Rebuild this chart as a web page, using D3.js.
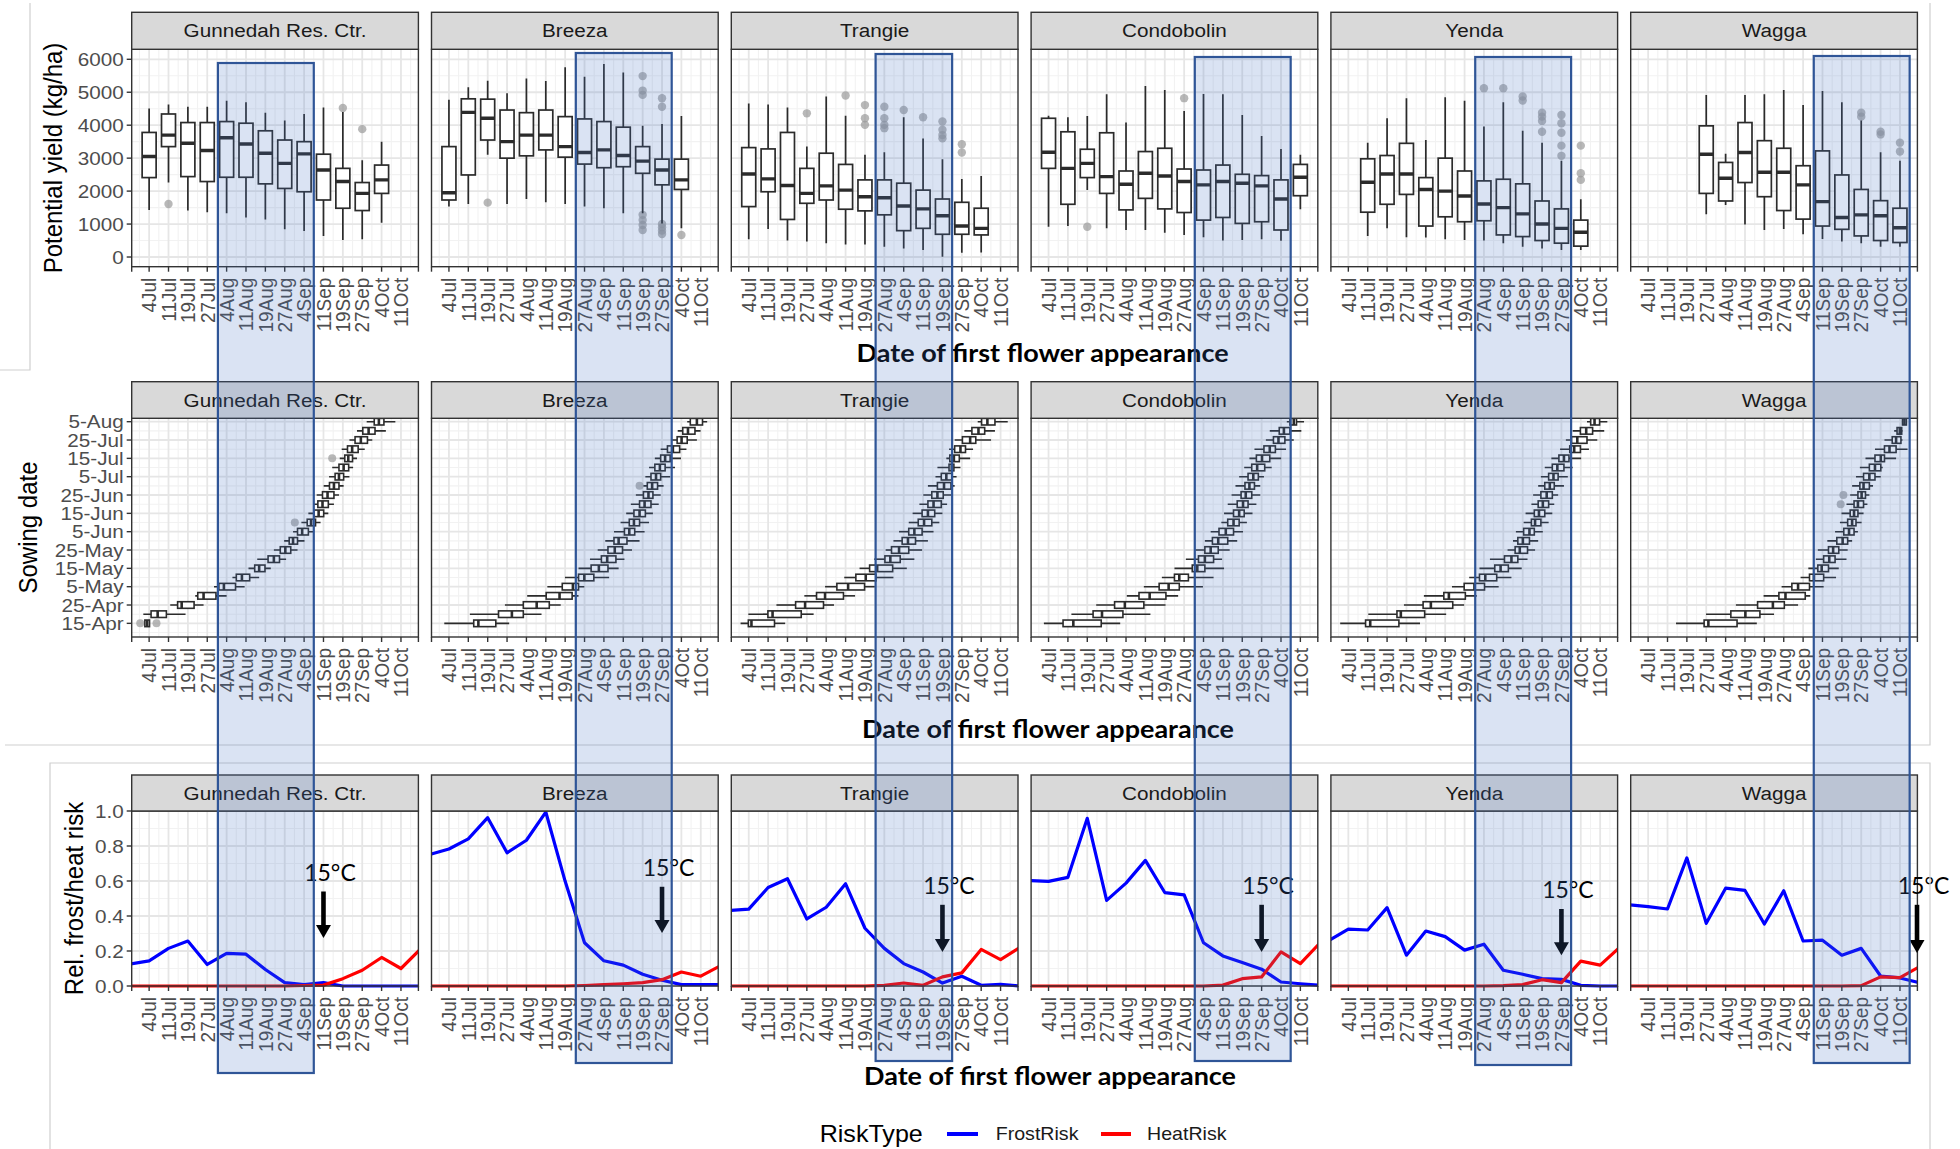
<!DOCTYPE html>
<html>
<head>
<meta charset="utf-8">
<script src="https://cdn.jsdelivr.net/npm/d3@7"></script>
<style>
  html, body { margin: 0; padding: 0; background: #fff; }
  svg { display: block; }
</style>
</head>
<body>
<svg id="fig" width="1960" height="1149"></svg>
<script>
// ---------------- data ----------------
const sites = ["Gunnedah Res. Ctr.", "Breeza", "Trangie", "Condobolin", "Yenda", "Wagga"];
// flowering weeks on the x axis (index 0 = week of 4 Jul)
const weekLabels = ["4Jul","11Jul","19Jul","27Jul","4Aug","11Aug","19Aug","27Aug","4Sep","11Sep","19Sep","27Sep","4Oct","11Oct"];
const sowingDates = ["15-Apr","20-Apr","25-Apr","30-Apr","5-May","10-May","15-May","20-May","25-May","30-May",
  "5-Jun","10-Jun","15-Jun","20-Jun","25-Jun","30-Jun","5-Jul","10-Jul","15-Jul","20-Jul","25-Jul","30-Jul","5-Aug"];
const yieldTicks = [0, 1000, 2000, 3000, 4000, 5000, 6000];
const riskTicks = [0, 0.2, 0.4, 0.6, 0.8, 1.0];

// potential yield (kg/ha) boxplots: [flowering week, lower whisker, Q1, median, Q3, upper whisker]
const yieldGunnedah = [[0,1430,2410,3050,3780,4510],[1,2260,3350,3700,4340,4630],[2,1410,2440,3450,4080,4560],
  [3,1360,2290,3230,4080,4560],[4,1330,2420,3620,4110,4740],[5,1200,2420,3430,4060,4700],[6,1140,2220,3150,3830,4380],
  [7,840,2080,2840,3550,4140],[8,790,1980,3130,3500,4340],[9,640,1730,2640,3120,4540],[10,520,1480,2290,2690,4400],
  [11,540,1410,1930,2260,2940],[12,1040,1930,2340,2790,3500]];
const yieldBreeza = [[0,1530,1730,1950,3350,4770],[1,1610,2490,4390,4800,5150],[2,3100,3550,4210,4790,5350],
  [3,1610,3000,3500,4460,4970],[4,1760,3070,3700,4380,5420],[5,1660,3250,3700,4460,5340],[6,1610,3030,3350,4260,5760],
  [7,1530,2820,3170,4190,5470],[8,1480,2710,3250,4110,5860],[9,1330,2740,3080,3940,5600],[10,1330,2540,2910,3350,3980],
  [11,1020,2190,2640,2970,4040],[12,870,2050,2340,2970,4280]];
const yieldTrangie = [[0,540,1530,2520,3320,4660],[1,850,1980,2370,3280,4630],[2,500,1140,2170,3780,4540],
  [3,470,1630,1930,2690,3350],[4,420,1730,2160,3150,4870],[5,380,1450,2030,2810,4290],[6,380,1400,1830,2340,3100],
  [7,310,1280,1800,2340,3180],[8,260,800,1550,2240,4240],[9,210,870,1460,2030,3600],[10,10,690,1250,1760,2970],
  [11,130,690,940,1660,2370],[12,140,670,870,1480,2460]];
const yieldCondobolin = [[0,920,2690,3180,4210,4290],[1,940,1600,2690,3800,4240],[2,2030,2410,2840,3270,4280],
  [3,870,1930,2440,3770,4940],[4,820,1430,2210,2610,4080],[5,820,1780,2540,3200,5190],[6,740,1460,2460,3300,5070],
  [7,670,1350,2290,2670,4430],[8,600,1120,2190,2640,4950],[9,500,1200,2290,2790,4940],[10,520,1020,2240,2510,4310],
  [11,540,1070,2160,2470,3670],[12,490,820,1760,2340,3280],[13,1450,1860,2420,2810,3100]];
const yieldYenda = [[1,640,1360,2270,2980,3470],[2,870,1600,2520,3080,4210],[3,600,1900,2520,3450,4820],
  [4,590,940,2050,2410,3550],[5,540,1220,2000,3000,4850],[6,520,1070,1850,2610,4740],[7,500,1100,1610,2310,3960],
  [8,420,670,1500,2360,4700],[9,310,620,1310,2220,3830],[10,260,500,1000,1700,3470],[11,210,420,870,1460,2920],
  [12,210,330,750,1120,1750]];
const yieldWagga = [[3,1300,1930,3120,3980,4920],[4,1580,1700,2390,2870,3130],[5,990,2260,3170,4080,4920],
  [6,820,1830,2570,3530,4940],[7,850,1410,2570,3300,5070],[8,690,1150,2190,2770,4610],[9,550,940,1680,3220,5040],
  [10,470,840,1200,2490,4700],[11,420,640,1280,2050,4140],[12,310,500,1250,1710,3180],[13,310,440,890,1480,2920]];

// yield outliers: [flowering week, kg/ha]
const yieldOutGunnedah = [[1,1610],[10,4520],[11,3880]];
const yieldOutBreeza = [[2,1650],[10,5490],[10,5050],[10,4920],[10,1280],[10,1120],[10,970],[10,820],
  [11,4820],[11,4560],[11,1000],[11,900],[11,800],[11,700],[12,670]];
const yieldOutTrangie = [[3,4360],[5,4900],[6,4610],[6,4210],[6,4010],[7,4560],[7,4210],[7,4010],[7,3910],
  [8,4460],[9,4240],[10,4110],[10,3860],[10,3700],[10,3600],[11,3420],[11,3170]];
const yieldOutCondobolin = [[2,920],[7,4820]];
const yieldOutYenda = [[7,5120],[8,5120],[9,4870],[9,4750],[10,4380],[10,4260],[10,4130],[10,3800],
  [11,4310],[11,4060],[11,3770],[11,3380],[11,3070],[12,3380],[12,2540],[12,2340]];
const yieldOutWagga = [[11,4380],[11,4260],[12,3800],[12,3720],[13,3470],[13,3200]];

// flowering week for each sowing date (row = sowingDates index): [lower whisker, Q1, median, Q3, upper whisker]
const flowerGunnedah = [[-0.22,-0.22,-0.10,0.02,0.02],[-0.30,0.10,0.44,0.89,1.88],[1.09,1.47,1.68,2.32,2.81],
  [2.38,2.51,2.81,3.45,4.00],[3.35,3.60,3.86,4.46,4.93],[4.30,4.50,4.79,5.19,5.68],[5.13,5.45,5.68,5.98,6.28],
  [5.58,6.14,6.44,6.73,7.07],[6.44,6.77,7.03,7.31,7.66],[6.97,7.23,7.43,7.66,8.02],[7.43,7.66,7.90,8.22,8.46],
  [7.86,8.16,8.36,8.59,8.85],[8.22,8.51,8.75,9.01,9.25],[8.46,8.71,8.95,9.25,9.54],[8.65,8.95,9.21,9.54,9.80],
  [9.01,9.31,9.54,9.80,10.04],[9.29,9.60,9.80,10.04,10.34],[9.45,9.80,10.04,10.30,10.53],[9.84,10.10,10.28,10.50,10.73],
  [9.94,10.24,10.48,10.79,11.13],[10.34,10.63,10.93,11.27,11.52],[10.73,11.03,11.33,11.66,12.22],[11.23,11.62,11.86,12.12,12.71]];
const flowerBreeza = [[-0.24,1.28,1.52,2.42,3.11],[1.08,2.56,3.25,3.84,4.78],[2.89,3.84,4.53,5.18,5.77],
  [4.04,5.02,5.71,6.36,6.69],[5.08,5.85,6.40,6.69,6.99],[5.99,6.69,6.99,7.48,8.27],[6.69,7.34,7.74,8.21,8.76],
  [7.28,7.87,8.17,8.62,9.06],[7.68,8.21,8.56,8.96,9.45],[8.07,8.52,8.76,9.19,9.84],[8.52,9.06,9.31,9.59,10.10],
  [8.86,9.31,9.55,9.84,10.33],[9.15,9.55,9.84,10.14,10.53],[9.39,9.84,10.10,10.43,10.83],[9.65,10.04,10.30,10.53,10.93],
  [10.04,10.24,10.49,10.77,11.08],[10.14,10.43,10.69,10.93,11.42],[10.33,10.63,10.89,11.16,11.67],[10.63,10.93,11.16,11.42,11.98],
  [10.93,11.28,11.56,11.91,12.26],[11.48,11.78,12.01,12.30,12.80],[11.81,12.07,12.34,12.70,12.99],[12.30,12.46,12.80,13.09,13.33]];
const flowerTrangie = [[-0.42,-0.02,0.14,1.33,1.88],[-0.02,0.99,1.23,2.71,3.35],[1.43,2.42,2.91,3.86,4.40],
  [2.87,3.50,3.94,4.89,5.49],[3.94,4.55,5.13,5.98,6.51],[4.93,5.53,6.04,6.57,7.47],[5.72,6.24,6.63,7.43,8.16],
  [6.48,7.03,7.31,7.82,8.55],[7.07,7.37,7.76,8.26,8.95],[7.47,7.92,8.22,8.61,9.25],[7.76,8.26,8.55,8.95,9.54],
  [8.26,8.75,9.05,9.45,9.84],[8.46,8.95,9.25,9.60,10.00],[8.81,9.25,9.54,9.94,10.24],[9.01,9.45,9.74,10.04,10.44],
  [9.25,9.74,10.08,10.44,10.63],[9.64,9.94,10.20,10.48,10.73],[9.74,10.34,10.48,10.59,10.93],[10.20,10.38,10.59,10.87,11.43],
  [10.34,10.63,10.93,11.19,11.58],[10.63,11.03,11.43,11.72,12.51],[11.13,11.52,11.86,12.18,12.71],[11.82,12.02,12.32,12.71,13.37]];
const flowerCondobolin = [[-0.24,0.75,1.28,2.72,3.70],[1.18,2.30,2.76,3.84,5.26],[2.46,3.41,3.94,4.92,6.04],
  [4.04,4.67,5.22,6.06,6.69],[4.92,5.71,6.20,6.75,7.97],[5.85,6.50,6.75,7.22,8.52],[6.50,7.42,7.68,8.07,9.06],
  [7.09,7.74,8.07,8.52,8.96],[7.58,8.07,8.37,8.76,9.35],[8.07,8.46,8.76,9.25,9.74],[8.37,8.80,9.15,9.55,10.04],
  [8.92,9.25,9.55,9.84,10.24],[9.06,9.55,9.84,10.10,10.53],[9.25,9.74,10.04,10.30,10.73],[9.45,9.94,10.18,10.49,10.93],
  [9.65,10.14,10.37,10.63,10.93],[9.84,10.30,10.57,10.83,11.12],[10.10,10.49,10.77,11.16,11.52],[10.37,10.73,11.02,11.42,12.01],
  [10.63,11.12,11.42,11.71,12.26],[11.22,11.61,11.87,12.20,12.66],[11.42,11.91,12.15,12.46,13.05],[12.30,12.46,12.66,12.80,13.19]];
const flowerYenda = [[-0.42,0.89,1.13,2.61,3.70],[1.03,2.51,2.71,3.94,5.05],[2.87,3.86,4.26,5.39,5.98],
  [3.90,4.93,5.19,6.04,6.63],[5.35,5.98,6.51,7.03,7.76],[6.24,6.77,7.07,7.66,8.42],[6.77,7.56,7.86,8.26,8.95],
  [7.31,8.06,8.42,8.75,9.25],[8.22,8.61,8.85,9.25,9.64],[8.50,8.75,9.01,9.35,9.80],[8.65,9.05,9.35,9.60,10.04],
  [9.05,9.45,9.64,9.94,10.34],[9.15,9.60,9.84,10.14,10.53],[9.45,9.80,10.04,10.34,10.63],[9.54,9.94,10.24,10.53,10.83],
  [9.80,10.14,10.40,10.63,11.13],[9.94,10.34,10.59,10.83,11.33],[10.14,10.53,10.79,11.13,11.58],[10.48,10.87,11.13,11.39,12.02],
  [10.93,11.43,11.66,11.98,12.42],[11.23,11.52,11.82,12.32,12.85],[11.58,11.98,12.28,12.61,13.21],[12.32,12.51,12.71,12.97,13.37]];
const flowerWagga = [[1.44,2.89,3.11,4.59,5.61],[2.99,4.27,5.02,5.77,6.50],[4.53,5.65,6.44,7.03,7.74],
  [5.96,6.75,7.09,8.11,8.37],[6.89,7.42,7.74,8.33,9.06],[7.87,8.33,8.56,9.06,9.70],[8.27,8.76,8.96,9.31,9.84],
  [8.66,9.06,9.35,9.65,10.24],[8.76,9.31,9.55,9.84,10.30],[9.25,9.74,10.04,10.30,10.53],[9.65,10.10,10.37,10.63,10.83],
  [9.90,10.30,10.53,10.73,11.02],[9.98,10.43,10.63,10.83,11.12],[10.24,10.63,10.83,11.12,11.32],[10.43,10.83,11.02,11.22,11.42],
  [10.53,10.93,11.12,11.42,11.61],[10.73,11.12,11.42,11.71,12.01],[10.93,11.42,11.71,12.01,12.11],[11.22,11.71,12.01,12.20,12.80],
  [11.71,12.20,12.46,12.80,13.39],[12.20,12.60,12.80,13.05,13.13],[12.70,12.85,12.99,13.09,13.13],[13.13,13.13,13.23,13.33,13.33]];

// flowering outliers: [sowing date index, flowering week]
const flowerOutGunnedah = [[0,-0.46],[0,0.38],[11,7.52],[18,9.45]];
const flowerOutBreeza = [[15,9.84]];
const flowerOutTrangie = [];
const flowerOutCondobolin = [];
const flowerOutYenda = [];
const flowerOutWagga = [[13,9.94],[14,10.08]];

// relative frost / heat risk by flowering week
const riskWeeks = [-1,0,1,2,3,4,5,6,7,8,9,10,11,12,13,14];
const frostGunnedah   = [0.125,0.144,0.215,0.257,0.123,0.186,0.182,0.094,0.019,0.008,0.019,0,0,0,0,0];
const frostBreeza     = [0.751,0.783,0.841,0.962,0.761,0.833,0.994,0.598,0.247,0.144,0.119,0.067,0.033,0.008,0.008,0.008];
const frostTrangie    = [0.431,0.439,0.563,0.613,0.383,0.450,0.584,0.330,0.215,0.128,0.080,0.017,0.056,0.004,0.010,0];
const frostCondobolin = [0.602,0.598,0.621,0.958,0.489,0.588,0.718,0.534,0.521,0.247,0.172,0.134,0.096,0.023,0.013,0.004];
const frostYenda      = [0.260,0.325,0.320,0.448,0.176,0.314,0.282,0.205,0.239,0.090,0.067,0.042,0.038,0.004,0,0];
const frostWagga      = [0.464,0.454,0.440,0.732,0.358,0.559,0.546,0.354,0.544,0.257,0.262,0.176,0.215,0.057,0.046,0.019];
const heatGunnedah    = [0,0,0,0,0,0,0,0,0,0.003,0.005,0.042,0.090,0.163,0.100,0.211];
const heatBreeza      = [0,0,0,0,0,0,0,0,0.003,0.008,0.013,0.019,0.036,0.080,0.056,0.115];
const heatTrangie     = [0,0,0,0,0,0,0,0,0.004,0.017,0.004,0.052,0.075,0.209,0.151,0.220];
const heatCondobolin  = [0,0,0,0,0,0,0,0,0,0,0.005,0.042,0.052,0.195,0.128,0.245];
const heatYenda       = [0,0,0,0,0,0,0,0,0,0.002,0.008,0.036,0.019,0.142,0.119,0.220];
const heatWagga       = [0,0,0,0,0,0,0,0,0,0,0,0,0.002,0.052,0.048,0.110];

// week at which mean temperature reaches 15°C (arrow), with arrow span in risk units
const arrowWeek   = [9, 11, 10, 11, 11, 13.88];
const arrowTop    = [0.54, 0.567, 0.464, 0.464, 0.44, 0.464];
const arrowBottom = [0.275, 0.303, 0.195, 0.195, 0.176, 0.188];

// optimal flowering window per site: [first week, last week]
const windowWeeks = [[4,8],[7,11],[7,10],[8,12],[7,11],[9,13]];

// ---------------- tables built from the arrays ----------------
const yieldBySite  = [yieldGunnedah, yieldBreeza, yieldTrangie, yieldCondobolin, yieldYenda, yieldWagga];
const yieldOutBySite = [yieldOutGunnedah, yieldOutBreeza, yieldOutTrangie, yieldOutCondobolin, yieldOutYenda, yieldOutWagga];
const flowerBySite = [flowerGunnedah, flowerBreeza, flowerTrangie, flowerCondobolin, flowerYenda, flowerWagga];
const flowerOutBySite = [flowerOutGunnedah, flowerOutBreeza, flowerOutTrangie, flowerOutCondobolin, flowerOutYenda, flowerOutWagga];
const frostBySite = [frostGunnedah, frostBreeza, frostTrangie, frostCondobolin, frostYenda, frostWagga];
const heatBySite  = [heatGunnedah, heatBreeza, heatTrangie, heatCondobolin, heatYenda, heatWagga];

// ---------------- layout & style ----------------
const SX = 1.09;                         // horizontal text stretch of the figure
const FONT = "'Liberation Sans', Arial, Helvetica, sans-serif";
const CAL = "Lato, 'Open Sans', sans-serif";
const INK = "#2b2b2b";
const PW = 286.7;
const panelX = i => 131.7 + 299.8 * i;
const rows = {
  yield: { stripTop: 12.3,  top: 49.3,  bottom: 266.7 },
  sow:   { stripTop: 381.7, top: 418.3, bottom: 637 },
  risk:  { stripTop: 775,   top: 811,   bottom: 986 }
};
const hlTop    = [63, 53, 54, 57, 57, 56];
const hlBottom = [1073, 1063, 1061, 1061, 1065, 1063];

const svg = d3.select("#fig");
svg.append("rect").attr("width", 1960).attr("height", 1149).attr("fill", "#fff");

function stretchedText(g, x, y, txt, opts = {}) {
  const rot = opts.rotate || 0;
  return g.append("text")
    .attr("transform", `translate(${x},${y}) scale(${SX},1)` + (rot ? ` rotate(${rot})` : ""))
    .attr("text-anchor", opts.anchor || "middle")
    .attr("dy", opts.dy || "0.35em")
    .attr("font-family", FONT)
    .attr("font-size", opts.size || 19)
    .attr("fill", opts.fill || "#4d4d4d")
    .text(txt);
}

const weekIdx = weekLabels.map((d, i) => i);
const weekMinor = d3.range(-0.5, 14, 1);
const yScales = {
  yield: d3.scaleLinear().domain([-294, 6303]).range([rows.yield.bottom, rows.yield.top]),
  sow:   d3.scaleLinear().domain([-1.49, 22.37]).range([rows.sow.bottom, rows.sow.top]),
  risk:  d3.scaleLinear().domain([0, 1]).range([rows.risk.bottom, rows.risk.top])
};
const yGrid = {
  yield: { major: yieldTicks, minor: [500,1500,2500,3500,4500,5500] },
  sow:   { major: sowingDates.map((d,k)=>k).filter(k=>k%2===0), minor: [-1].concat(sowingDates.map((d,k)=>k).filter(k=>k%2===1)) },
  risk:  { major: riskTicks, minor: [0.1,0.3,0.5,0.7,0.9] }
};
const yTickText = {
  yield: v => String(v),
  sow: k => sowingDates[k],
  risk: v => v.toFixed(1)
};

function drawPanel(rowKey, i, content) {
  const r = rows[rowKey];
  const y = yScales[rowKey];
  const x0 = panelX(i), x1 = x0 + PW;
  const x = d3.scaleLinear().domain([-0.9, 13.9]).range([x0, x1]);
  const g = svg.append("g");
  g.append("rect").attr("x", x0).attr("y", r.top).attr("width", PW).attr("height", r.bottom - r.top).attr("fill", "#fff");

  const grid = g.append("g");
  grid.selectAll(".vmin").data(weekMinor).join("line")
    .attr("x1", d => x(d)).attr("x2", d => x(d)).attr("y1", r.top).attr("y2", r.bottom)
    .attr("stroke", "#f2f2f2").attr("stroke-width", 1.1);
  grid.selectAll(".hmin").data(yGrid[rowKey].minor).join("line")
    .attr("x1", x0).attr("x2", x1).attr("y1", d => y(d)).attr("y2", d => y(d))
    .attr("stroke", "#f2f2f2").attr("stroke-width", 1.1);
  grid.selectAll(".vmaj").data(weekIdx).join("line")
    .attr("x1", d => x(d)).attr("x2", d => x(d)).attr("y1", r.top).attr("y2", r.bottom)
    .attr("stroke", "#e6e6e6").attr("stroke-width", 1.8);
  grid.selectAll(".hmaj").data(yGrid[rowKey].major).join("line")
    .attr("x1", x0).attr("x2", x1).attr("y1", d => y(d)).attr("y2", d => y(d))
    .attr("stroke", "#e6e6e6").attr("stroke-width", 1.8);

  const clipId = `clip-${rowKey}-${i}`;
  svg.append("clipPath").attr("id", clipId).append("rect")
    .attr("x", x0).attr("y", r.top - 2).attr("width", PW).attr("height", r.bottom - r.top + 4);
  const marks = g.append("g").attr("clip-path", `url(#${clipId})`);
  content(marks, x, y, i);

  g.append("rect").attr("x", x0).attr("y", r.top).attr("width", PW).attr("height", r.bottom - r.top)
    .attr("fill", "none").attr("stroke", "#333").attr("stroke-width", 1.4);
  g.append("rect").attr("x", x0).attr("y", r.stripTop).attr("width", PW).attr("height", r.top - r.stripTop)
    .attr("fill", "#d9d9d9").attr("stroke", "#333").attr("stroke-width", 1.4);
  stretchedText(g, x0 + PW / 2, (r.stripTop + r.top) / 2, sites[i], { fill: "#1a1a1a", size: 19 });

  // x axis
  g.selectAll(".xt").data(weekIdx).join("line")
    .attr("x1", d => x(d)).attr("x2", d => x(d)).attr("y1", r.bottom).attr("y2", r.bottom + 5)
    .attr("stroke", "#333").attr("stroke-width", 1.4);
  [x0, x1].forEach(e => g.append("line").attr("x1", e).attr("x2", e).attr("y1", r.bottom).attr("y2", r.bottom + 5)
    .attr("stroke", "#333").attr("stroke-width", 1.4));
  weekIdx.forEach(d => stretchedText(g, x(d), r.bottom + 11, weekLabels[d], { rotate: -90, anchor: "end", size: 19 }));

  // y axis on the first panel of each row
  if (i === 0) {
    g.selectAll(".yt").data(yGrid[rowKey].major).join("line")
      .attr("x1", x0 - 5).attr("x2", x0).attr("y1", d => y(d)).attr("y2", d => y(d))
      .attr("stroke", "#333").attr("stroke-width", 1.4);
    yGrid[rowKey].major.forEach(v => stretchedText(g, x0 - 8, y(v), yTickText[rowKey](v), { anchor: "end", size: 19 }));
  }
}

// ---- row 1: potential yield boxplots ----
function yieldContent(g, x, y, i) {
  const bw = 14;
  g.selectAll(".out").data(yieldOutBySite[i]).join("circle")
    .attr("cx", d => x(d[0])).attr("cy", d => y(d[1])).attr("r", 4.2)
    .attr("fill", "#9a9a9a").attr("fill-opacity", 0.7);
  const b = g.selectAll(".box").data(yieldBySite[i]).join("g");
  b.append("line").attr("x1", d => x(d[0])).attr("x2", d => x(d[0])).attr("y1", d => y(d[1])).attr("y2", d => y(d[2]))
    .attr("stroke", INK).attr("stroke-width", 1.7);
  b.append("line").attr("x1", d => x(d[0])).attr("x2", d => x(d[0])).attr("y1", d => y(d[4])).attr("y2", d => y(d[5]))
    .attr("stroke", INK).attr("stroke-width", 1.7);
  b.append("rect").attr("x", d => x(d[0]) - bw / 2).attr("y", d => y(d[4])).attr("width", bw)
    .attr("height", d => y(d[2]) - y(d[4])).attr("fill", "#fff").attr("stroke", INK).attr("stroke-width", 1.7);
  b.append("line").attr("x1", d => x(d[0]) - bw / 2).attr("x2", d => x(d[0]) + bw / 2)
    .attr("y1", d => y(d[3])).attr("y2", d => y(d[3])).attr("stroke", INK).attr("stroke-width", 3.4);
}

// ---- row 2: flowering date by sowing date (horizontal boxplots) ----
function sowContent(g, x, y, i) {
  const bh = 6.6;
  const data = flowerBySite[i].map((d, k) => ({ k, lo: d[0], q1: d[1], med: d[2], q3: d[3], hi: d[4] }));
  g.selectAll(".out").data(flowerOutBySite[i]).join("circle")
    .attr("cx", d => x(d[1])).attr("cy", d => y(d[0])).attr("r", 4)
    .attr("fill", "#9a9a9a").attr("fill-opacity", 0.7);
  const b = g.selectAll(".hbox").data(data).join("g");
  b.append("line").attr("x1", d => x(d.lo)).attr("x2", d => x(d.q1)).attr("y1", d => y(d.k)).attr("y2", d => y(d.k))
    .attr("stroke", INK).attr("stroke-width", 1.6);
  b.append("line").attr("x1", d => x(d.q3)).attr("x2", d => x(d.hi)).attr("y1", d => y(d.k)).attr("y2", d => y(d.k))
    .attr("stroke", INK).attr("stroke-width", 1.6);
  b.append("rect").attr("x", d => x(d.q1)).attr("y", d => y(d.k) - bh / 2)
    .attr("width", d => Math.max(1, x(d.q3) - x(d.q1))).attr("height", bh)
    .attr("fill", "#fff").attr("stroke", INK).attr("stroke-width", 1.6);
  b.append("line").attr("x1", d => x(d.med)).attr("x2", d => x(d.med))
    .attr("y1", d => y(d.k) - bh / 2).attr("y2", d => y(d.k) + bh / 2)
    .attr("stroke", INK).attr("stroke-width", 2.6);
}

// ---- row 3: relative frost / heat risk ----
function riskContent(g, x, y, i) {
  const line = d3.line().x(d => x(d[0])).y(d => y(d[1]));
  const frost = riskWeeks.map((w, j) => [w, frostBySite[i][j]]);
  const heat = riskWeeks.map((w, j) => [w, heatBySite[i][j]]);
  g.append("path").attr("d", line(frost)).attr("fill", "none").attr("stroke", "#0000ff")
    .attr("stroke-width", 3.2).attr("stroke-linejoin", "round");
  g.append("path").attr("d", line(heat)).attr("fill", "none").attr("stroke", "#ff0000")
    .attr("stroke-width", 3.2).attr("stroke-linejoin", "round");
}

sites.forEach((s, i) => {
  drawPanel("yield", i, yieldContent);
  drawPanel("sow", i, sowContent);
  drawPanel("risk", i, riskContent);
});

// 15°C arrows
const ann = svg.append("g");
sites.forEach((s, i) => {
  const x = d3.scaleLinear().domain([-0.9, 13.9]).range([panelX(i), panelX(i) + PW]);
  const y = yScales.risk;
  const ax = x(arrowWeek[i]), yt = y(arrowTop[i]), yb = y(arrowBottom[i]);
  ann.append("rect").attr("x", ax - 2.3).attr("y", yt).attr("width", 4.6).attr("height", yb - yt - 11).attr("fill", "#000");
  ann.append("path").attr("d", `M${ax - 7.5},${yb - 13}L${ax + 7.5},${yb - 13}L${ax},${yb}Z`).attr("fill", "#000");
  ann.append("text").attr("x", ax + 6.5).attr("y", yt - 19).attr("dy", "0.35em")
    .attr("text-anchor", "middle").attr("font-family", CAL).attr("font-size", 23).attr("fill", "#000")
    .text("15°C");
});

// axis titles
stretchedText(svg, 53, 158, "Potential yield (kg/ha)", { rotate: -90, size: 24, fill: "#000" });
stretchedText(svg, 28, 527.5, "Sowing date", { rotate: -90, size: 24, fill: "#000" });
stretchedText(svg, 74, 898.5, "Rel. frost/heat risk", { rotate: -90, size: 24, fill: "#000" });

// frame edges of the assembled figure
const frame = svg.append("g").attr("fill", "none").attr("stroke", "#cfcfcf").attr("stroke-width", 1.2);
frame.append("path").attr("d", "M30,3V370H0");
frame.append("path").attr("d", "M5,745H1930V3");
frame.append("path").attr("d", "M50,1149V763H1930V1149");

// x titles
[[1042.6, 362], [1048, 738], [1050, 1085]].forEach(([cx, by]) => {
  svg.append("text").attr("x", cx).attr("y", by).attr("text-anchor", "middle")
    .attr("font-family", CAL).attr("font-weight", "bold").attr("font-size", 25).attr("fill", "#000")
    .attr("textLength", 372).attr("lengthAdjust", "spacingAndGlyphs")
    .text("Date of first flower appearance");
});

// legend
const leg = svg.append("g");
stretchedText(leg, 819.7, 1134, "RiskType", { anchor: "start", size: 23, fill: "#000" });
leg.append("line").attr("x1", 947).attr("x2", 978).attr("y1", 1134).attr("y2", 1134).attr("stroke", "#0000ff").attr("stroke-width", 4);
stretchedText(leg, 995.7, 1134, "FrostRisk", { anchor: "start", size: 18, fill: "#1a1a1a" });
leg.append("line").attr("x1", 1101).attr("x2", 1131).attr("y1", 1134).attr("y2", 1134).attr("stroke", "#ff0000").attr("stroke-width", 4);
stretchedText(leg, 1147, 1134, "HeatRisk", { anchor: "start", size: 18, fill: "#1a1a1a" });

// highlighted flowering windows, spanning all three rows
sites.forEach((s, i) => {
  const x = d3.scaleLinear().domain([-0.9, 13.9]).range([panelX(i), panelX(i) + PW]);
  const xa = x(windowWeeks[i][0] - 0.45), xb = x(windowWeeks[i][1] + 0.5);
  svg.append("rect").attr("x", xa).attr("y", hlTop[i]).attr("width", xb - xa).attr("height", hlBottom[i] - hlTop[i])
    .attr("fill", "#4472c4").attr("fill-opacity", 0.2)
    .attr("stroke", "#2f5597").attr("stroke-width", 2.2);
});
</script>
</body>
</html>
